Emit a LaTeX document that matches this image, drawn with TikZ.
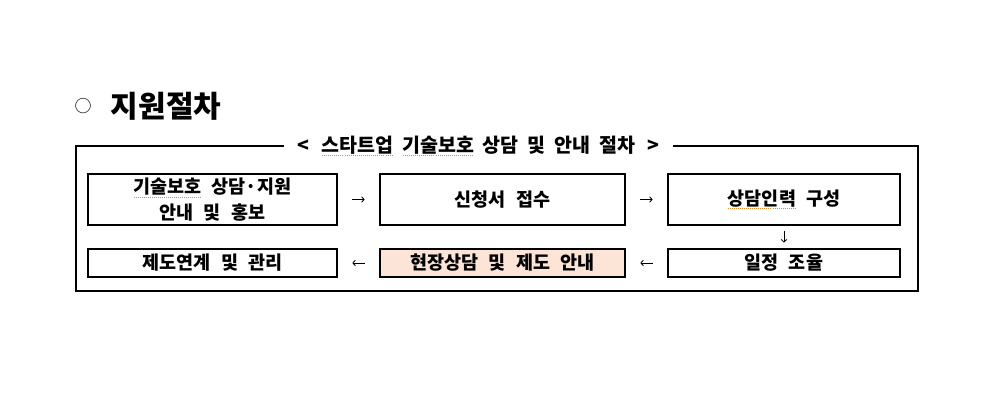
\documentclass[tikz,border=0pt]{standalone}
\usepackage{fontspec}
\newfontfamily\kr{Noto Sans CJK KR}
\usetikzlibrary{arrows.meta,calc}
\definecolor{peach}{HTML}{FCE4D6}
\definecolor{spell}{HTML}{E08A2A}
% dotted spell-check underline under a word
\newcommand\sq[1]{\setbox0=\hbox{#1}\rlap{\raisebox{-4pt}{\color{spell}\hbox to \wd0{\xleaders\hbox to 2pt{\hss\rule{1pt}{0.9pt}\hss}\hfill}}}\box0\relax}
\begin{document}
\begin{tikzpicture}[x=1pt,y=1pt,
  stepbox/.style={draw,line width=1.5pt,inner sep=0pt,align=center,
    font={\kr\bfseries\fontsize{18.5}{26}\selectfont\spaceskip=10pt\relax}},
  toprow/.style={stepbox,minimum height=51pt},
  botrow/.style={stepbox,minimum height=28pt},
  flow/.style={line width=0.8pt,-{Straight Barb[length=2.6pt,width=5.5pt]}},
  titlefont/.style={font={\kr\bfseries\fontsize{19.5}{19.5}\selectfont\spaceskip=9pt\relax}}]
\useasboundingbox (0,0) rectangle (983,405);
% heading
\node[font=\kr\fontsize{17}{17}\selectfont,inner sep=0pt] (bullet) at (83,299) {○};
\node[font=\kr\bfseries\fontsize{30}{30}\selectfont,inner sep=0pt] (head) at (166,299) {지원절차};
% frame
\draw[line width=1.5pt] (76,259) rectangle (918,114);
\node[fill=white,inner xsep=13pt,inner ysep=2pt,titlefont] (title) at (478.5,259)
  {<\, \sq{스타트업} \sq{기술보호} 상담 및 안내 절차 \,>};
% boxes
\node[toprow,minimum width=249pt] (b1) at (212.5,205.5) {\sq{기술보호} 상담·지원\\안내 및 홍보};
\node[toprow,minimum width=245pt] (b2) at (502.5,205.5) {신청서 접수};
\node[toprow,minimum width=232pt] (b3) at (784,205.5) {\sq{상담인력} 구성};
\node[botrow,minimum width=249pt] (b4) at (212.5,142) {제도연계 및 관리};
\node[botrow,minimum width=245pt,fill=peach] (b5) at (502.5,142) {현장상담 및 제도 안내};
\node[botrow,minimum width=232pt] (b6) at (784,142) {일정 조율};
% arrows
\draw[flow] ($(b1.east)!0.35!(b2.west)$) -- ($(b1.east)!0.65!(b2.west)$);
\draw[flow] ($(b2.east)!0.35!(b3.west)$) -- ($(b2.east)!0.65!(b3.west)$);
\draw[flow] ($(b3.south)!0.25!(b6.north)$) -- ($(b3.south)!0.75!(b6.north)$);
\draw[flow] ($(b6.west)!0.35!(b5.east)$) -- ($(b6.west)!0.65!(b5.east)$);
\draw[flow] ($(b5.west)!0.35!(b4.east)$) -- ($(b5.west)!0.65!(b4.east)$);
\end{tikzpicture}
\end{document}
